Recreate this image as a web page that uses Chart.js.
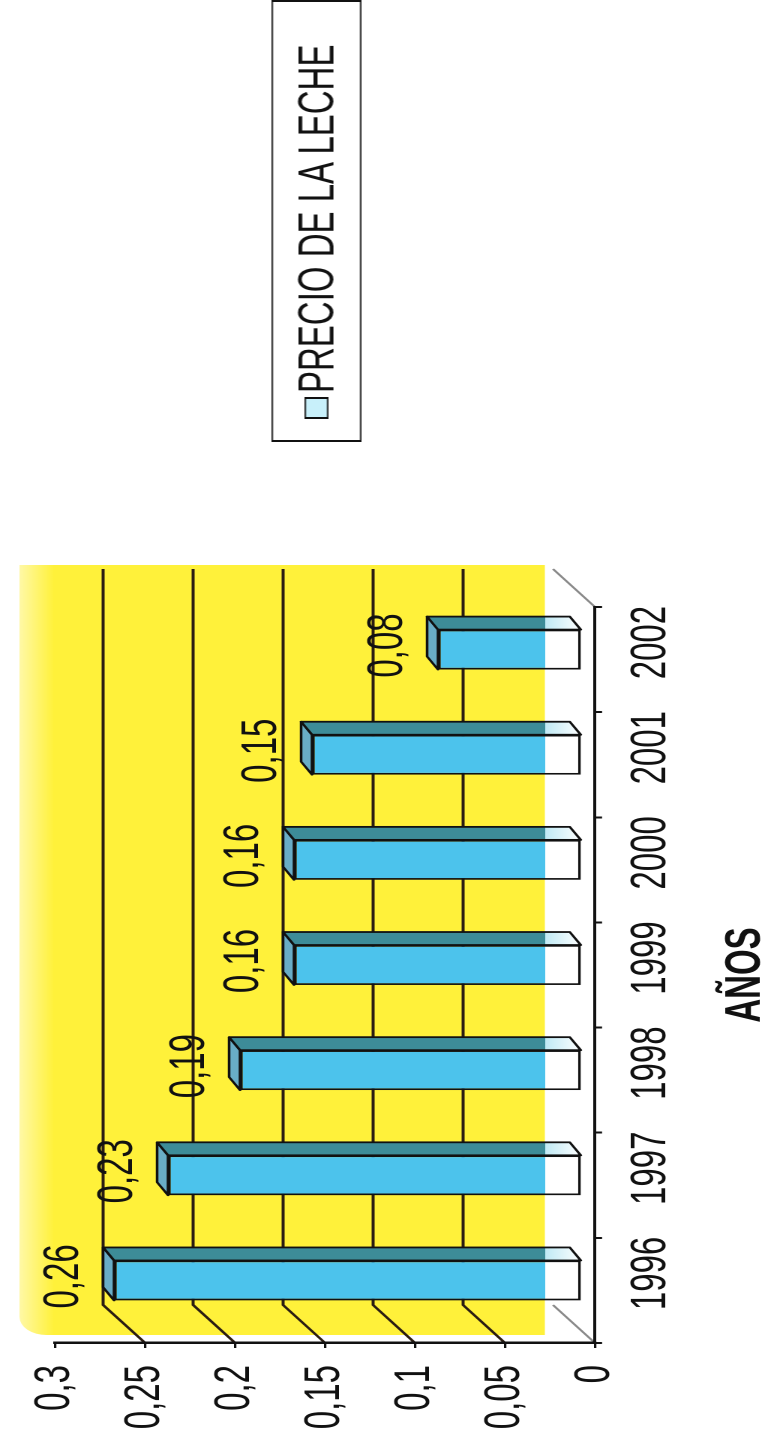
<!DOCTYPE html>
<html>
<head>
<meta charset="utf-8">
<script src="https://cdn.jsdelivr.net/npm/chart.js@4.4.0/dist/chart.umd.min.js"></script>
<style>
  html, body { margin: 0; padding: 0; background: #fff; overflow: hidden; }
  /* chart is drawn upright, then turned a quarter left and stretched like the scan */
  #page { position: absolute; left: 0; top: 0; width: 1445px; height: 517px;
          transform-origin: 0 0; transform: translate(0, 1445px) rotate(-90deg) scale(1, 1.5); }
  #myChart { position: absolute; left: 0; top: 0; display: block; }
  #legend { position: absolute; left: 1003px; top: 181px; width: 442px; height: 60px;
            box-sizing: border-box; border-style: solid; border-color: #111;
            border-width: 1.7px 2.5px; background: #fff; white-space: nowrap;
            display: flex; align-items: center; padding-left: 21px;
            font: 33px 'Liberation Sans', Arial, sans-serif; color: #111; }
  #legend .sw { width: 22px; height: 16px; border-style: solid; border-color: #111;
                border-width: 1.4px 2px; background: #c8f0fa;
                margin-right: 4px; box-sizing: border-box; flex: none; }
</style>
</head>
<body>
<div id="page">
  <canvas id="myChart" width="1445" height="517"></canvas>
  <div id="legend"></div>
</div>
<script>
'use strict'
const years = ['1996', '1997', '1998', '1999', '2000', '2001', '2002'];
const milkPrice = [0.26, 0.23, 0.19, 0.16, 0.16, 0.15, 0.08];
const priceLabels = ['0,26', '0,23', '0,19', '0,16', '0,16', '0,15', '0,08'];
const valueTicks = ['0', '0,05', '0,1', '0,15', '0,2', '0,25', '0,3'];
const seriesName = 'PRECIO DE LA LECHE';
const axisTitle = 'AÑOS';

const FONT = "'Liberation Sans', Arial, sans-serif";
const INK = '#111';
// fake 3d: back wall offset, bar offset from front axes, bar depth
const wall = { dx: 38, dy: -28 };
const barShift = { dx: 10, dy: -8.7 };
const depth = { dx: 13, dy: -7.3 };
const floorCut = 24.7;

const threeD = {
    id: 'threeD',
    beforeDraw(chart) {
        const { ctx, chartArea: a, scales: { y } } = chart;
        const y0 = y.getPixelForValue(0);
        const wallBottom = y0 + wall.dy - 5.4;
        ctx.save();
        let g = ctx.createLinearGradient(0, 13, 0, 36);
        g.addColorStop(0, '#fff8a6');
        g.addColorStop(1, '#fff13a');
        ctx.fillStyle = g;
        ctx.beginPath();
        ctx.roundRect(a.left + 8, 13, a.right + wall.dx + 4 - (a.left + 8), wallBottom - 13, [18, 0, 0, 0]);
        ctx.fill();

        // back wall gridlines with the little diagonals to the front ticks
        ctx.strokeStyle = '#2b1d12';
        ctx.lineWidth = 2;
        y.ticks.forEach(t => {
            if (t.value <= 0 || t.value > 0.29) return;
            const py = y.getPixelForValue(t.value);
            ctx.beginPath();
            ctx.moveTo(a.left, py);
            ctx.lineTo(a.left + wall.dx, py + wall.dy);
            ctx.lineTo(a.right + wall.dx, py + wall.dy);
            ctx.stroke();
        });
        // floor edges
        ctx.strokeStyle = '#8a8a8a';
        ctx.lineWidth = 1.6;
        [a.left, a.right].forEach(px => {
            ctx.beginPath();
            ctx.moveTo(px, y0);
            ctx.lineTo(px + wall.dx, y0 + wall.dy);
            ctx.stroke();
        });
        ctx.restore();
    },
    beforeDatasetsDraw(chart) {
        chart.ctx.save();
        chart.ctx.translate(barShift.dx, barShift.dy);
    },
    afterDatasetsDraw(chart) {
        const { ctx, chartArea: a } = chart;
        const meta = chart.getDatasetMeta(0);
        ctx.lineWidth = 1.8;
        ctx.strokeStyle = INK;
        ctx.lineJoin = 'round';
        const side = ctx.createLinearGradient(0, a.top, 0, a.bottom);
        const cut = (a.bottom - floorCut - a.top) / (a.bottom - a.top);
        side.addColorStop(0, '#3d8c98');
        side.addColorStop(cut, '#3d8c98');
        side.addColorStop(cut, '#bfe9f4');
        side.addColorStop(1, '#ffffff');
        meta.data.forEach((bar, i) => {
            const { x, y, base, width } = bar.getProps(['x', 'y', 'base', 'width'], true);
            const l = x - width / 2;
            const r = x + width / 2;
            ctx.beginPath();
            ctx.moveTo(l, y);
            ctx.lineTo(l + depth.dx, y + depth.dy);
            ctx.lineTo(r + depth.dx, y + depth.dy);
            ctx.lineTo(r, y);
            ctx.closePath();
            ctx.fillStyle = '#69adc6';
            ctx.fill();
            ctx.stroke();

            ctx.beginPath();
            ctx.moveTo(r, y);
            ctx.lineTo(r + depth.dx, y + depth.dy);
            ctx.lineTo(r + depth.dx, base + depth.dy);
            ctx.lineTo(r, base);
            ctx.closePath();
            ctx.fillStyle = side;
            ctx.fill();
            ctx.stroke();

            ctx.fillStyle = INK;
            ctx.font = '33px ' + FONT;
            ctx.textAlign = 'center';
            ctx.textBaseline = 'alphabetic';
            ctx.fillText(priceLabels[i], x + 4, y - 24);
        });
        ctx.restore();
    }
};

function frontColor(c) {
    const a = c.chart.chartArea;
    if (!a) return '#4cc3ec';
    const g = c.chart.ctx.createLinearGradient(0, a.top, 0, a.bottom);
    const cut = (a.bottom - floorCut - a.top) / (a.bottom - a.top);
    g.addColorStop(0, '#4cc3ec');
    g.addColorStop(cut, '#4cc3ec');
    g.addColorStop(cut, '#ffffff');
    g.addColorStop(1, '#ffffff');
    return g;
}

const ctx = document.getElementById('myChart');
const myChart = new Chart(ctx, {
    type: 'bar',
    data: {
        labels: years,
        datasets: [{
            label: seriesName,
            data: milkPrice,
            backgroundColor: frontColor,
            borderColor: INK,
            borderWidth: 1.8,
            borderSkipped: false,
            barPercentage: 0.38,
            categoryPercentage: 1,
            clip: false
        }]
    },
    options: {
        responsive: false,
        animation: false,
        devicePixelRatio: 2,
        layout: { padding: { top: 36.7, right: 607, left: 0, bottom: 0 } },
        plugins: {
            legend: { display: false },
            tooltip: { enabled: false }
        },
        scales: {
            x: {
                grid: { drawOnChartArea: false, tickLength: 4.7, color: INK, lineWidth: 2 },
                border: { color: INK, width: 2 },
                ticks: {
                    font: { family: FONT, size: 33 }, color: INK,
                    padding: 13, labelOffset: 17, maxRotation: 0, autoSkip: false
                },
                title: {
                    display: true, text: axisTitle, color: INK, padding: 0,
                    font: { family: FONT, size: 33, weight: 'bold' }
                },
                afterFit(scale) { scale.height = 120.3; }
            },
            y: {
                min: 0,
                max: 0.3,
                grid: { drawOnChartArea: false, tickLength: 5, color: INK, lineWidth: 1.6 },
                border: { color: INK, width: 2.5 },
                ticks: {
                    stepSize: 0.05, padding: 17, color: INK,
                    font: { family: FONT, size: 33 },
                    callback: (v, i) => valueTicks[i]
                },
                afterFit(scale) { scale.width = 102; }
            }
        }
    },
    plugins: [threeD]
});

const legend = document.getElementById('legend');
myChart.data.datasets.forEach(ds => {
    const sw = document.createElement('span');
    sw.className = 'sw';
    const txt = document.createElement('span');
    txt.textContent = ds.label;
    legend.appendChild(sw);
    legend.appendChild(txt);
});
</script>
</body>
</html>
